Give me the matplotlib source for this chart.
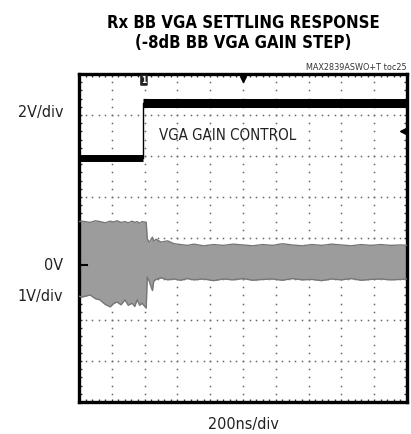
import numpy as np
import matplotlib
matplotlib.use('Agg')
import matplotlib.pyplot as plt

# scope screen is 10 x 8 divisions
n_xdiv = 10
n_ydiv = 8

# channel 1: VGA gain control (digital step), in divisions
step_x = 1.95
ctrl_low = 5.95
ctrl_high = 7.30

# channel 2: baseband output envelope (x, upper edge, lower edge), in divisions
env_x = [0.00, 0.09, 0.34, 0.50, 0.64, 0.80, 0.95, 1.05, 1.16, 1.28, 1.40, 1.50,
         1.62, 1.70, 1.77, 1.85, 1.92, 2.05, 2.08, 2.14, 2.20, 2.24, 2.28, 2.35,
         2.50, 2.70, 2.90, 3.10, 3.30, 3.50, 3.80, 4.10, 4.40, 4.70, 5.00, 5.30,
         5.60, 5.90, 6.20, 6.50, 6.80, 7.10, 7.40, 7.70, 8.00, 8.30, 8.60, 8.90,
         9.20, 9.50, 9.80, 10.0]
env_top = [4.40, 4.41, 4.38, 4.42, 4.40, 4.37, 4.41, 4.39, 4.42, 4.38, 4.40, 4.37,
           4.41, 4.38, 4.40, 4.36, 4.40, 4.38, 3.98, 3.90, 3.96, 4.02, 3.92, 3.97,
           3.90, 3.93, 3.86, 3.84, 3.82, 3.85, 3.81, 3.84, 3.82, 3.85, 3.83, 3.81,
           3.84, 3.82, 3.86, 3.83, 3.81, 3.84, 3.82, 3.85, 3.83, 3.81, 3.84, 3.82,
           3.84, 3.82, 3.83, 3.82]
env_bot = [2.58, 2.56, 2.61, 2.52, 2.49, 2.38, 2.32, 2.40, 2.44, 2.37, 2.49, 2.36,
           2.41, 2.33, 2.49, 2.36, 2.41, 2.29, 3.05, 2.95, 2.80, 2.72, 2.95, 2.99,
           3.03, 2.98, 3.00, 2.97, 3.01, 2.98, 3.00, 2.96, 3.00, 2.98, 3.01, 2.97,
           2.99, 3.00, 2.97, 3.01, 2.98, 2.99, 2.96, 3.00, 2.98, 3.01, 2.97, 2.99,
           3.00, 2.98, 2.99, 3.00]

W, H = 411, 434
fig = plt.figure(figsize=(W / 100, H / 100), dpi=100)
ax = fig.add_axes([79 / W, 32 / H, 328 / W, 328 / H])
ax.set_xlim(0, n_xdiv)
ax.set_ylim(0, n_ydiv)

lbl = dict(family='DejaVu Sans', fontstretch='condensed')

# dotted graticule
for gx in range(1, n_xdiv):
    yy = np.arange(0.2, n_ydiv, 0.2)
    ax.plot(np.full_like(yy, gx), yy, ls='none', marker='s', ms=1.1,
            mfc='#666666', mec='none', zorder=1)
for gy in range(1, n_ydiv):
    xx = np.arange(0.2, n_xdiv, 0.2)
    ax.plot(xx, np.full_like(xx, gy), ls='none', marker='s', ms=1.1,
            mfc='#666666', mec='none', zorder=1)

# baseband envelope
ax.fill_between(env_x, env_bot, env_top, color='#9c9c9c', lw=0, zorder=2)
ax.plot(env_x, env_top, color='#777777', lw=1.0, zorder=3)
ax.plot(env_x, env_bot, color='#777777', lw=1.0, zorder=3)

# gain control step
ax.plot([0, step_x], [ctrl_low, ctrl_low], color='black', lw=5.0,
        solid_capstyle='butt', zorder=4)
ax.plot([step_x, n_xdiv], [ctrl_high, ctrl_high], color='black', lw=6.5,
        solid_capstyle='butt', zorder=4)
ax.plot([step_x, step_x], [ctrl_low, ctrl_high], color='black', lw=1.0, zorder=4)

# channel markers
ax.text(step_x + 0.03, 7.85, '1', ha='center', va='center', fontsize=5.5,
        color='white', fontweight='bold',
        bbox=dict(boxstyle='round,pad=0.15', fc='#222222', ec='none'), zorder=5)
ax.plot([5.0], [7.88], marker='v', ms=5, color='black', clip_on=False, zorder=5)
ax.plot([9.88], [6.6], marker='<', ms=5, color='black', clip_on=False, zorder=5)
ax.plot([0.0, 0.25], [3.34, 3.34], color='black', lw=1.5, zorder=5)

ax.text(2.45, 6.5, 'VGA GAIN CONTROL', fontsize=10.8,
        ha='left', va='center', color='#222222', zorder=5, **lbl)

# frame with minor ticks
for s in ax.spines.values():
    s.set_linewidth(2.4)
ax.set_xticks(np.arange(0, n_xdiv + 0.01, 0.2))
ax.set_yticks(np.arange(0, n_ydiv + 0.01, 0.2))
ax.tick_params(direction='in', length=2.5, width=1, top=True, right=True,
               labelbottom=False, labelleft=False, color='#333333')

def fx(px):
    return px / W

def fy(py):
    return 1 - py / H

fig.text(fx(243), fy(23), 'Rx BB VGA SETTLING RESPONSE',
         fontweight='bold', fontsize=12, ha='center', va='center', **lbl)
fig.text(fx(243), fy(43), '(-8dB BB VGA GAIN STEP)',
         fontweight='bold', fontsize=12, ha='center', va='center', **lbl)
fig.text(fx(407), fy(67), 'MAX2839ASWO+T toc25',
         fontsize=6.5, ha='right', va='center', color='#333333', **lbl)

fig.text(fx(63), fy(112), '2V/div', fontsize=11.5,
         ha='right', va='center', color='#222222', **lbl)
fig.text(fx(63), fy(265), '0V', fontsize=11.5,
         ha='right', va='center', color='#222222', **lbl)
fig.text(fx(63), fy(296), '1V/div', fontsize=11.5,
         ha='right', va='center', color='#222222', **lbl)
fig.text(fx(243), fy(424), '200ns/div', fontsize=11.5,
         ha='center', va='center', color='#222222', **lbl)

plt.savefig('out.png', dpi=100)
